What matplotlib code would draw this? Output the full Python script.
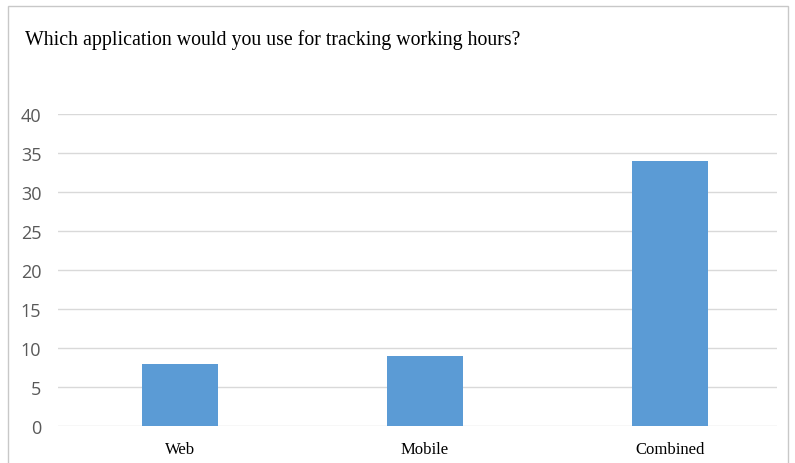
import matplotlib.pyplot as plt
from matplotlib.patches import Rectangle

categories = ['Web', 'Mobile', 'Combined']
counts = [8, 9, 34]
yticks = [0, 5, 10, 15, 20, 25, 30, 35, 40]

fig = plt.figure(figsize=(7.95, 4.64), dpi=100)
fig.patches.append(Rectangle((8 / 795, -0.01), 780 / 795, 1 - 7 / 464 + 0.01,
                             transform=fig.transFigure, fill=False,
                             edgecolor='#c8c8c8', linewidth=1))

fig.text(25 / 795, 1 - 40 / 464, 'Which application would you use for tracking working hours?',
         family='Liberation Serif', fontsize=14.3, color='black', va='center', ha='left')

ax = fig.add_axes([58 / 795, 37 / 464, 719 / 795, 312 / 464])
x = list(range(len(categories)))
ax.bar(x, counts, width=0.31, color='#5b9bd5', zorder=3)

ax.set_ylim(0, 40)
ax.set_xlim(-0.498, 2.437)
ax.set_yticks(yticks)
ax.set_xticks(x)
ax.set_xticklabels(categories, family='Liberation Serif', fontsize=12, color='black')
for lab in ax.get_yticklabels():
    lab.set_family('Open Sans')
    lab.set_fontsize(13)
    lab.set_color('#595959')
ax.grid(axis='y', color='#d9d9d9', linewidth=1, zorder=0)
ax.tick_params(length=0)
ax.tick_params(axis='y', pad=12)
ax.tick_params(axis='x', pad=11)
for s in ax.spines.values():
    s.set_visible(False)

fig.savefig('out.png', dpi=100)
